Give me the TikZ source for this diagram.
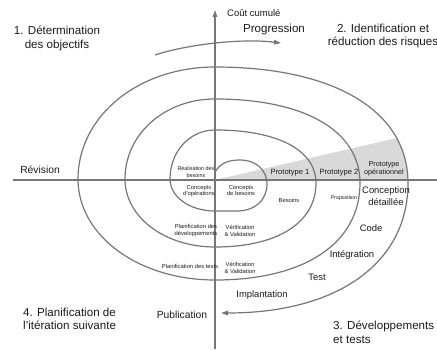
\documentclass[tikz,border=0pt]{standalone}
\usepackage{fontspec}
\setmainfont{Liberation Sans}
\usetikzlibrary{arrows.meta}
\definecolor{ln}{HTML}{767676}
\definecolor{wedge}{HTML}{D9D9D9}
\definecolor{txt}{HTML}{1A1A1A}
\begin{document}
\begin{tikzpicture}[x=1pt,y=1pt,
  line/.style={draw=ln,line width=1.2pt},
  arrowend/.style={-{Triangle[length=7pt,width=4.5pt]}},
  big/.style={inner sep=0pt,text=txt,font=\fontsize{11.6}{13.5}\selectfont},
  mid/.style={inner sep=0pt,text=txt,font=\fontsize{10.3}{12}\selectfont},
  phase/.style={inner sep=0pt,text=txt,font=\fontsize{9.4}{12}\selectfont},
  proto/.style={inner sep=0pt,text=txt,font=\fontsize{7.6}{8.5}\selectfont},
  tiny/.style={inner sep=0pt,text=txt,font=\fontsize{5.8}{6.8}\selectfont}
]
\useasboundingbox (0,0) rectangle (437,349);
\def\kr{0.62}
\def\kl{0.56}
% grey wedge
\begin{scope}
\clip (215,169) -- (215,282) .. controls +({\kr*193},0) and +(0,{\kr*116}) .. (408,166) -- (408,169) -- cycle;
\fill[wedge] (215,169) -- (440,221) -- (440,169) -- cycle;
\end{scope}
% axes
\coordinate (xl) at (13,169);
\coordinate (xr) at (437,169);
\coordinate (ybot) at (215,0);
\coordinate (ytop) at (215,339);
\draw[line] (xl) -- (xr);
\draw[line,arrowend] (ybot) -- (ytop);
% spiral
\coordinate (s0) at (215,177);
\coordinate (s1) at (215,138);
\coordinate (l1) at (170,170);
\coordinate (t2) at (215,219);
\coordinate (r2) at (316,166);
\coordinate (b2) at (215,102);
\coordinate (l2) at (125,170);
\coordinate (t3) at (215,250);
\coordinate (r3) at (360,166);
\coordinate (b3) at (215,69);
\coordinate (l3) at (78,170);
\coordinate (t4) at (215,282);
\coordinate (r4) at (408,166);
\coordinate (b4) at (221,36);
\draw[line,arrowend] (s0) .. controls (221,187) and (230,189) .. (240,189)
 .. controls (257,189) and (267,178) .. (267,165)
 .. controls (267,149) and (255,138) .. (237,138) -- (s1)
 .. controls +({-\kl*45},0) and +(0,{-\kl*32}) .. (l1)
 .. controls +(0,{\kl*49}) and +({-\kl*45},0) .. (t2)
 .. controls +({\kr*101},0) and +(0,{\kr*53}) .. (r2)
 .. controls +(0,{-\kr*64}) and +({\kr*101},0) .. (b2)
 .. controls +({-\kl*90},0) and +(0,{-\kl*68}) .. (l2)
 .. controls +(0,{\kl*80}) and +({-\kl*90},0) .. (t3)
 .. controls +({\kr*145},0) and +(0,{\kr*84}) .. (r3)
 .. controls +(0,{-\kr*97}) and +({\kr*145},0) .. (b3)
 .. controls +({-\kl*137},0) and +(0,{-\kl*101}) .. (l3)
 .. controls +(0,{\kl*112}) and +({-\kl*137},0) .. (t4)
 .. controls +({\kr*193},0) and +(0,{\kr*116}) .. (r4)
 .. controls +(0,{-\kr*130}) and +({\kr*187},0) .. (b4);
% progression arc
\coordinate (pa) at (155,294);
\coordinate (pb) at (281,306);
\draw[line,arrowend] (pa) .. controls (185,304) and (240,311) .. (pb);
% labels
\node[big,align=center] (obj) at (57,310.5) {1. Détermination\\des objectifs};
\node[inner sep=0pt,text=txt,font=\fontsize{9.5}{11}\selectfont,anchor=west] (cost) at (227,336) {Coût cumulé};
\node[big] (prog) at (274,319) {Progression};
\node[big,align=center] (risk) at (383,313) {2. Identification et\\réduction des risques};
\node[mid] (rev) at (40,179) {Révision};
\node[tiny,align=center,font=\fontsize{5.4}{6.5}\selectfont] (rb) at (196,177) {Réalisation des\\besoins};
\node[tiny,align=center] (co) at (199,158) {Concepts\\d'opérations};
\node[tiny,align=center] (cb) at (241,158.5) {Concepts\\de besoins};
\node[proto] (p1) at (290,176) {Prototype 1};
\node[proto] (p2) at (339,176) {Prototype 2};
\node[proto,align=center,font=\fontsize{7.2}{8.5}\selectfont] (po) at (384,180) {Prototype\\opérationnel};
\node[tiny] (bes) at (289,149) {Besoins};
\node[tiny,font=\fontsize{5.2}{6}\selectfont] (prop) at (344,151) {Proposition};
\node[phase,align=center] (cd) at (386,153) {Conception\\détaillée};
\node[phase] (code) at (371,121) {Code};
\node[phase] (integ) at (352,94) {Intégration};
\node[phase] (test) at (317,72) {Test};
\node[phase] (impl) at (262,54) {Implantation};
\node[mid] (pub) at (182,34) {Publication};
\node[tiny,align=center] (pd) at (196,118.5) {Planification des\\développements};
\node[tiny,align=center] (vv1) at (240,118.5) {Vérification\\\& Validation};
\node[tiny] (pt) at (190,83) {Planification des tests};
\node[tiny,align=center] (vv2) at (240,81.5) {Vérification\\\& Validation};
\node[big,align=left,anchor=west] (plan) at (23,30) {4. Planification de\\l'itération suivante};
\node[big,align=left,anchor=west] (dev) at (333,16.5) {3. Développements\\et tests};
\end{tikzpicture}
\end{document}
